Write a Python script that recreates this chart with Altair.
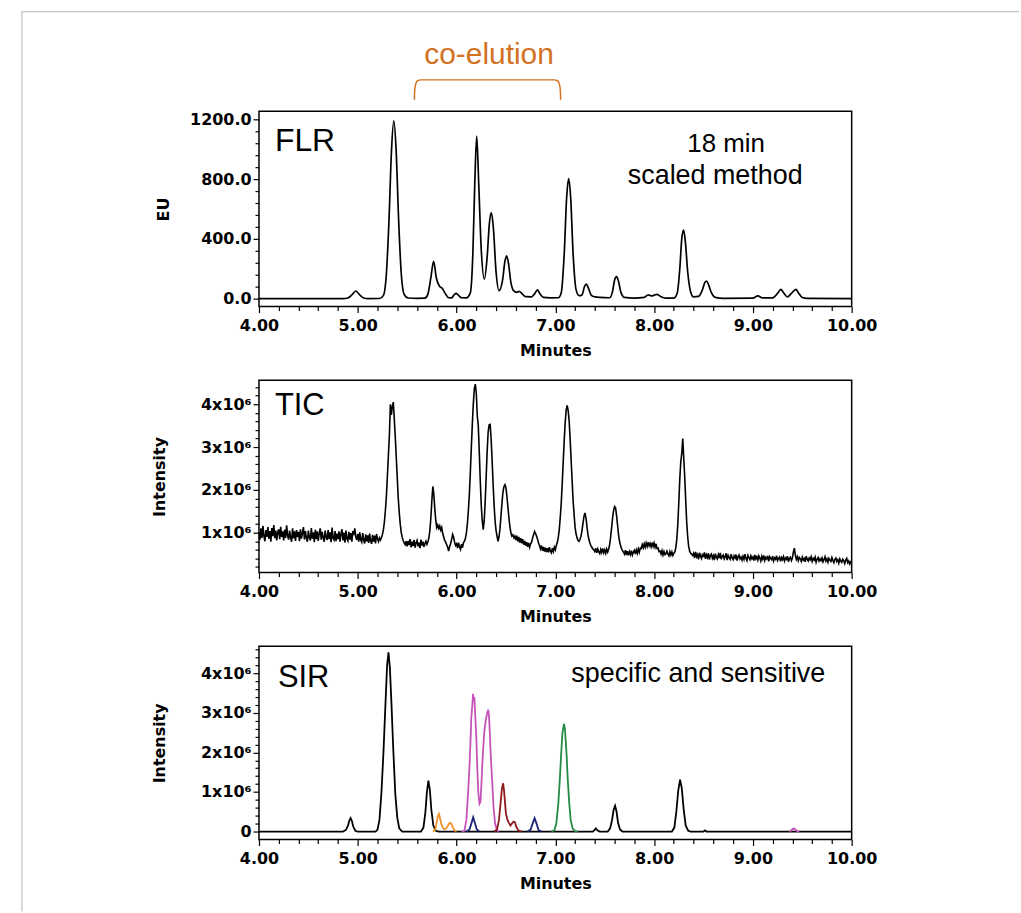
import altair as alt
import pandas as pd

# ---------------- data ----------------
# FLR trace vertices: (minutes, EU)
flr_points = [
    (4.00, 0), (4.85, 0), (4.90, 4), (4.94, 25), (4.98, 51), (5.02, 25), (5.06, 4), (5.10, 0),
    (5.22, 1), (5.26, 22), (5.29, 170), (5.317, 540), (5.341, 985), (5.365, 1190), (5.389, 985),
    (5.413, 540), (5.44, 170), (5.47, 28), (5.51, 4), (5.60, 2),
    (5.68, 3), (5.71, 30), (5.74, 140), (5.768, 249), (5.795, 140), (5.825, 85), (5.86, 65),
    (5.885, 35), (5.92, 6), (5.95, 5), (5.975, 25), (5.996, 35), (6.02, 22), (6.05, 6), (6.10, 5),
    (6.14, 40), (6.165, 300), (6.185, 780), (6.204, 1087), (6.225, 760), (6.25, 330), (6.282, 131),
    (6.31, 280), (6.332, 500), (6.352, 576), (6.372, 480), (6.40, 180), (6.43, 53), (6.465, 120),
    (6.49, 250), (6.507, 287), (6.525, 240), (6.55, 110), (6.575, 55), (6.61, 42), (6.635, 49),
    (6.66, 35), (6.70, 13), (6.76, 12), (6.79, 32), (6.819, 58), (6.845, 32), (6.88, 8), (6.95, 5),
    (7.03, 6), (7.06, 40), (7.09, 300), (7.115, 680), (7.135, 804), (7.155, 680), (7.18, 300),
    (7.21, 60), (7.24, 20), (7.27, 25), (7.295, 80), (7.313, 98), (7.335, 70), (7.365, 22),
    (7.40, 12), (7.45, 8), (7.55, 6), (7.58, 50), (7.60, 125), (7.62, 147), (7.64, 115),
    (7.665, 40), (7.70, 8), (7.80, 4), (7.90, 8), (7.94, 25), (7.98, 18), (8.03, 29), (8.07, 12),
    (8.12, 3), (8.20, 4), (8.235, 40), (8.26, 200), (8.28, 400), (8.298, 459), (8.315, 390),
    (8.34, 180), (8.37, 45), (8.40, 12), (8.45, 15), (8.49, 60), (8.515, 110), (8.532, 118),
    (8.55, 95), (8.58, 40), (8.62, 8), (8.70, 2), (9.00, 3), (9.05, 18), (9.10, 5), (9.20, 5),
    (9.25, 35), (9.283, 62), (9.31, 40), (9.35, 11), (9.39, 35), (9.436, 62), (9.46, 40),
    (9.50, 8), (9.55, 2), (10.00, 0),
]

# TIC trace sampled every 0.01 min from 4.00 to 10.00, in units of 1e4 counts
tic_start = 4.00
tic_step = 0.01
tic_counts_1e4 = [
    102, 84, 110, 88, 116, 92, 80, 106, 90, 113,     # 4.0
    86, 104, 79, 111, 92, 118, 87, 105, 82, 101,     # 4.1
    108, 85, 114, 90, 103, 82, 107, 88, 117, 93,     # 4.2
    84, 105, 89, 79, 110, 87, 103, 81, 106, 90,      # 4.3
    102, 80, 108, 86, 99, 113, 84, 104, 88, 79,      # 4.4
    105, 89, 82, 111, 86, 101, 78, 107, 85, 103,     # 4.5
    81, 99, 110, 84, 102, 88, 79, 105, 89, 83,       # 4.6
    106, 85, 101, 78, 112, 87, 83, 104, 80, 98,      # 4.7
    85, 103, 79, 97, 108, 82, 100, 77, 105, 86,      # 4.8
    81, 102, 84, 99, 79, 104, 98, 110, 90, 83,       # 4.9
    97, 79, 101, 83, 78, 99, 82, 75, 96, 80,         # 5.0
    94, 76, 98, 81, 74, 95, 79, 93, 75, 97,          # 5.1
    85, 79, 88, 83, 89, 96, 108, 126, 153, 186,      # 5.2
    232, 280, 327, 400, 375, 395, 405, 364, 323, 275,  # 5.3
    227, 180, 147, 120, 101, 89, 82, 76, 72, 80,     # 5.4
    68, 81, 71, 85, 66, 79, 69, 83, 65, 76,          # 5.5
    82, 68, 77, 64, 84, 70, 79, 67, 75, 80,          # 5.6
    73, 79, 88, 105, 135, 175, 208, 190, 155, 128,   # 5.7
    112, 118, 110, 116, 106, 112, 98, 90, 82, 78,    # 5.8
    72, 66, 57, 68, 75, 84, 96, 90, 78, 70,          # 5.9
    74, 64, 77, 67, 61, 73, 65, 77, 80, 87,          # 6.0
    100, 121, 153, 191, 243, 300, 355, 402, 436, 447,  # 6.1
    425, 372, 350, 290, 222, 165, 128, 107, 128, 172,  # 6.2
    230, 290, 335, 352, 353, 320, 270, 215, 165, 128,  # 6.3
    105, 92, 80, 90, 110, 140, 170, 195, 208, 212,   # 6.4
    205, 185, 160, 135, 115, 100, 92, 95, 88, 92,    # 6.5
    83, 93, 80, 90, 77, 87, 75, 85, 72, 81,          # 6.6
    70, 78, 67, 76, 66, 74, 78, 88, 95, 103,         # 6.7
    98, 92, 85, 76, 70, 62, 70, 58, 67, 56,          # 6.8
    65, 55, 64, 54, 66, 57, 53, 64, 56, 66,          # 6.9
    60, 70, 77, 89, 107, 136, 169, 216, 266, 315,    # 7.0
    357, 387, 397, 385, 361, 319, 270, 222, 175, 142,  # 7.1
    113, 97, 88, 82, 80, 84, 92, 105, 122, 138,      # 7.2
    146, 135, 115, 96, 84, 76, 70, 66, 62, 60,       # 7.3
    56, 64, 53, 62, 55, 51, 61, 54, 63, 53,          # 7.4
    60, 52, 62, 55, 62, 72, 90, 112, 135, 152,       # 7.5
    161, 158, 140, 118, 95, 80, 70, 63, 58, 55,      # 7.6
    50, 59, 48, 57, 47, 56, 49, 58, 48, 55,          # 7.7
    59, 50, 60, 52, 62, 54, 64, 63, 72, 65,          # 7.8
    74, 66, 76, 68, 78, 69, 75, 67, 77, 68,          # 7.9
    76, 66, 74, 63, 64, 56, 57, 50, 58, 48,          # 8.0
    56, 49, 51, 57, 50, 46, 56, 48, 55, 47,          # 8.1
    52, 55, 65, 85, 120, 170, 225, 265, 285, 320,    # 8.2
    275, 230, 175, 125, 90, 68, 57, 52, 50, 47,      # 8.3
    52, 41, 55, 44, 49, 38, 53, 45, 40, 51,          # 8.4
    43, 54, 39, 48, 42, 52, 37, 47, 50, 40,          # 8.5
    46, 36, 51, 43, 39, 49, 41, 53, 38, 45,          # 8.6
    48, 39, 44, 52, 36, 47, 42, 38, 50, 41,          # 8.7
    37, 46, 41, 49, 35, 44, 48, 39, 43, 36,          # 8.8
    45, 38, 50, 40, 35, 47, 42, 37, 46, 39,          # 8.9
    43, 35, 48, 39, 44, 36, 46, 41, 34, 45,          # 9.0
    38, 47, 35, 42, 39, 46, 33, 44, 40, 37,          # 9.1
    45, 34, 41, 38, 46, 35, 40, 43, 33, 42,          # 9.2
    37, 44, 34, 41, 38, 45, 32, 40, 43, 35,          # 9.3
    41, 55, 64, 47, 38, 44, 35, 42, 39, 33,          # 9.4
    43, 36, 40, 32, 45, 38, 34, 41, 37, 44,          # 9.5
    33, 40, 36, 43, 31, 38, 42, 34, 39, 35,          # 9.6
    41, 32, 37, 44, 34, 39, 31, 40, 36, 33,          # 9.7
    42, 35, 30, 38, 41, 33, 37, 29, 39, 34,          # 9.8
    31, 38, 35, 28, 36, 40, 30, 34, 27, 32,          # 9.9
    30,                                              # 10.0
]

# SIR traces: (minutes, intensity in 1e6)
sir_black = [
    (4.00, 0), (4.85, 0), (4.88, 0.04), (4.90, 0.14), (4.915, 0.28), (4.927, 0.34), (4.94, 0.27),
    (4.955, 0.12), (4.975, 0.02), (5.00, 0), (5.18, 0), (5.20, 0.05), (5.22, 0.3), (5.24, 1.0),
    (5.26, 2.0), (5.28, 3.2), (5.297, 4.2), (5.311, 4.53), (5.325, 4.15), (5.34, 3.3), (5.36, 2.05),
    (5.38, 0.95), (5.40, 0.35), (5.42, 0.08), (5.45, 0), (5.64, 0), (5.665, 0.1),
    (5.685, 0.5), (5.70, 1.0), (5.715, 1.29), (5.73, 1.05), (5.745, 0.55), (5.765, 0.15),
    (5.79, 0.02), (5.82, 0), (7.38, 0), (7.40, 0.05), (7.41, 0.08), (7.425, 0.03), (7.45, 0),
    (7.53, 0), (7.555, 0.08), (7.575, 0.3), (7.59, 0.55), (7.605, 0.65), (7.62, 0.5), (7.635, 0.22),
    (7.655, 0.05), (7.68, 0), (8.18, 0), (8.205, 0.1), (8.225, 0.5), (8.245, 1.05), (8.263, 1.31),
    (8.28, 1.1), (8.30, 0.55), (8.32, 0.15), (8.345, 0.02), (8.37, 0), (8.50, 0), (8.515, 0.03),
    (8.53, 0), (10.00, 0),
]
sir_orange = [
    (5.76, 0), (5.785, 0.05), (5.80, 0.25), (5.812, 0.40), (5.822, 0.45), (5.832, 0.35),
    (5.845, 0.20), (5.86, 0.10), (5.875, 0.06), (5.89, 0.07), (5.905, 0.12), (5.92, 0.18),
    (5.935, 0.22), (5.95, 0.19), (5.965, 0.10), (5.98, 0.03), (6.00, 0),
]
sir_magenta_a = [
    (6.05, 0), (6.08, 0.02), (6.10, 0.3), (6.115, 0.9), (6.13, 1.6), (6.14, 2.2), (6.15, 2.9),
    (6.16, 3.2), (6.167, 3.48), (6.175, 3.3), (6.18, 3.4), (6.19, 2.9), (6.20, 2.4), (6.21, 1.6),
    (6.22, 1.0), (6.232, 0.7), (6.242, 0.75), (6.25, 1.1), (6.265, 1.9), (6.28, 2.5), (6.295, 2.8),
    (6.31, 3.0), (6.32, 3.08), (6.328, 2.95), (6.335, 2.6), (6.345, 2.0), (6.36, 1.3),
    (6.375, 0.6), (6.39, 0.2), (6.41, 0.03), (6.43, 0),
]
sir_magenta_b = [
    (9.37, 0), (9.39, 0.03), (9.405, 0.07), (9.42, 0.07), (9.435, 0.04), (9.45, 0.01), (9.47, 0),
]
sir_navy_a = [
    (6.10, 0), (6.13, 0.05), (6.15, 0.2), (6.168, 0.36), (6.185, 0.22), (6.205, 0.05), (6.23, 0),
]
sir_navy_b = [
    (6.72, 0), (6.75, 0.05), (6.77, 0.2), (6.79, 0.34), (6.81, 0.2), (6.83, 0.04), (6.86, 0),
]
sir_darkred = [
    (6.38, 0), (6.41, 0.05), (6.43, 0.3), (6.445, 0.7), (6.46, 1.1), (6.472, 1.22), (6.48, 1.05),
    (6.49, 0.75), (6.50, 0.45), (6.515, 0.3), (6.53, 0.22), (6.545, 0.15), (6.56, 0.2),
    (6.575, 0.25), (6.59, 0.24), (6.605, 0.12), (6.625, 0.03), (6.66, 0),
]
sir_green = [
    (6.96, 0), (6.99, 0.03), (7.01, 0.2), (7.03, 0.7), (7.045, 1.3), (7.06, 2.0), (7.072, 2.5),
    (7.088, 2.72), (7.097, 2.6), (7.105, 2.3), (7.115, 1.9), (7.125, 1.35), (7.14, 0.75),
    (7.155, 0.3), (7.175, 0.08), (7.20, 0.01), (7.23, 0),
]

# co-elution bracket (minutes, EU, drawn above the FLR frame)
bracket_points = [
    (5.573, 1331), (5.576, 1390), (5.585, 1432), (5.605, 1458), (5.64, 1464),
    (6.987, 1464), (7.022, 1458), (7.042, 1432), (7.051, 1390), (7.054, 1331),
]

# axis ticks
x_ticks = [4.0, 4.2, 4.4, 4.6, 4.8, 5.0, 5.2, 5.4, 5.6, 5.8, 6.0, 6.2, 6.4, 6.6, 6.8, 7.0,
           7.2, 7.4, 7.6, 7.8, 8.0, 8.2, 8.4, 8.6, 8.8, 9.0, 9.2, 9.4, 9.6, 9.8, 10.0]
flr_ticks = [0, 80, 160, 240, 320, 400, 480, 560, 640, 720, 800, 880, 960, 1040, 1120, 1200]
tic_ticks = [0.2, 0.4, 0.6, 0.8, 1.0, 1.2, 1.4, 1.6, 1.8, 2.0, 2.2, 2.4, 2.6, 2.8, 3.0,
             3.2, 3.4, 3.6, 3.8, 4.0, 4.2, 4.4]
sir_ticks = [0.0, 0.2, 0.4, 0.6, 0.8, 1.0, 1.2, 1.4, 1.6, 1.8, 2.0, 2.2, 2.4, 2.6, 2.8, 3.0,
             3.2, 3.4, 3.6, 3.8, 4.0, 4.2, 4.4, 4.6]

sir_names = ["black", "orange", "magenta", "navy", "darkred", "green"]
sir_colors = ["#000000", "#F0922A", "#C654B8", "#1C237A", "#8E1B1B", "#238B45"]

# ---------------- tables ----------------
flr_df = pd.DataFrame(flr_points, columns=["t", "v"])
tic_df = pd.DataFrame({
    "t": [round(tic_start + i * tic_step, 2) for i in range(len(tic_counts_1e4))],
    "v": [c / 100.0 for c in tic_counts_1e4],
})
black_df = pd.DataFrame(sir_black, columns=["t", "v"])
rows = []
for trace, ion, pts in [("o", "orange", sir_orange), ("ma", "magenta", sir_magenta_a),
                        ("mb", "magenta", sir_magenta_b), ("na", "navy", sir_navy_a),
                        ("nb", "navy", sir_navy_b), ("dr", "darkred", sir_darkred),
                        ("g", "green", sir_green)]:
    for t, v in pts:
        rows.append({"t": t, "v": v, "ion": ion, "trace": trace})
color_df = pd.DataFrame(rows)
bracket_df = pd.DataFrame(bracket_points, columns=["t", "v"])
one = pd.DataFrame({"k": [0]})

# ---------------- styling ----------------
AX_FONT = "DejaVu Sans"
TXT_FONT = "Liberation Sans"
W = 595
MAJOR = "abs(datum.value - round(datum.value)) < 0.01"


def x_enc():
    return alt.X(
        "t:Q",
        scale=alt.Scale(domain=[4, 10], nice=False, zero=False),
        axis=alt.Axis(
            values=x_ticks, title="Minutes",
            labelExpr=f"{MAJOR} ? format(datum.value, '.2f') : ''",
            tickSize={"condition": {"test": MAJOR, "value": 6}, "value": 4},
            labelPadding=5, titlePadding=9,
            labelFont=AX_FONT, labelFontSize=16, labelFontWeight="bold", labelColor="black",
            titleFont=AX_FONT, titleFontSize=16, titleFontWeight="bold", titleColor="black",
            domain=False, grid=False, tickColor="black", tickWidth=1.2,
            labelFlush=False, labelOverlap=False,
        ),
    )


def y_enc(domain, values, title, label_expr, major_test, title_pad):
    return alt.Y(
        "v:Q",
        scale=alt.Scale(domain=domain, nice=False, zero=False),
        axis=alt.Axis(
            values=values, title=title, labelExpr=label_expr,
            tickSize={"condition": {"test": major_test, "value": 6}, "value": 4},
            labelPadding=2, titlePadding=title_pad,
            labelFont=AX_FONT, labelFontSize=16, labelFontWeight="bold", labelColor="black",
            titleFont=AX_FONT, titleFontSize=16, titleFontWeight="bold", titleColor="black",
            domain=False, grid=False, tickColor="black", tickWidth=1.2,
            labelFlush=False, labelOverlap=False,
        ),
    )


def label(text, x, y, size, align="left", color="black"):
    return alt.Chart(one).mark_text(
        text=text, font=TXT_FONT, fontSize=size, align=align, baseline="alphabetic", color=color
    ).encode(x=alt.value(x), y=alt.value(y))


# ---------------- FLR panel ----------------
def flr_y():
    return y_enc([-53.3, 1253.3], flr_ticks, "EU",
                 "datum.value % 400 == 0 ? format(datum.value, '.1f') : ''",
                 "datum.value % 400 == 0", 18)


flr_line = alt.Chart(flr_df).mark_line(color="black", strokeWidth=1.7, interpolate="monotone").encode(
    x=x_enc(), y=flr_y()
)
bracket = alt.Chart(bracket_df).mark_line(color="#D2711F", strokeWidth=1.5, interpolate="monotone").encode(
    x=x_enc(), y=flr_y()
)
border_left = alt.Chart(one).mark_rule(color="#b5b5b5", strokeWidth=1).encode(
    x=alt.value(-238), y=alt.value(-100), y2=alt.value(803)
)
border_top = alt.Chart(one).mark_rule(color="#b5b5b5", strokeWidth=1).encode(
    x=alt.value(-238), x2=alt.value(763), y=alt.value(-100)
)
flr = alt.layer(
    flr_line, bracket,
    label("co-elution", 231, -48, 30, "center", "#D2711F"),
    label("FLR", 16, 40, 32),
    label("18 min", 469, 41, 26, "center"),
    label("scaled method", 458, 73, 27, "center"),
    border_left, border_top,
).properties(width=W, height=196)

# ---------------- TIC panel ----------------
tic_y = y_enc([0.0698, 4.558], tic_ticks, "Intensity",
              f"{MAJOR} ? round(datum.value) + 'x10\u2076' : ''", MAJOR, 33)
tic_line = alt.Chart(tic_df).mark_line(color="black", strokeWidth=1.6).encode(x=x_enc(), y=tic_y)
tic = alt.layer(tic_line, label("TIC", 16, 35, 31)).properties(width=W, height=193)


# ---------------- SIR panel ----------------
def sir_y():
    return y_enc([-0.2015, 4.685], sir_ticks, "Intensity",
                 f"datum.value == 0 ? '0' : ({MAJOR} ? round(datum.value) + 'x10\u2076' : '')",
                 MAJOR, 33)


sir_black_line = alt.Chart(black_df).mark_line(color="black", strokeWidth=1.8).encode(
    x=x_enc(), y=sir_y()
)
sir_color_lines = alt.Chart(color_df).mark_line(strokeWidth=1.8).encode(
    x=x_enc(), y=sir_y(),
    color=alt.Color("ion:N", scale=alt.Scale(domain=sir_names, range=sir_colors), legend=None),
    detail="trace:N",
)
sir = alt.layer(
    sir_black_line, sir_color_lines,
    label("SIR", 19, 41, 31),
    label("specific and sensitive", 441, 36, 27, "center"),
).properties(width=W, height=194)

chart = alt.vconcat(flr, tic, sir, spacing=74, bounds="flush").properties(
    padding={"left": 20, "top": 8, "right": 0, "bottom": 0}
).configure_view(stroke="black", strokeWidth=1.5)

chart.save("out.html", embed_options={"renderer": "svg", "actions": False})
